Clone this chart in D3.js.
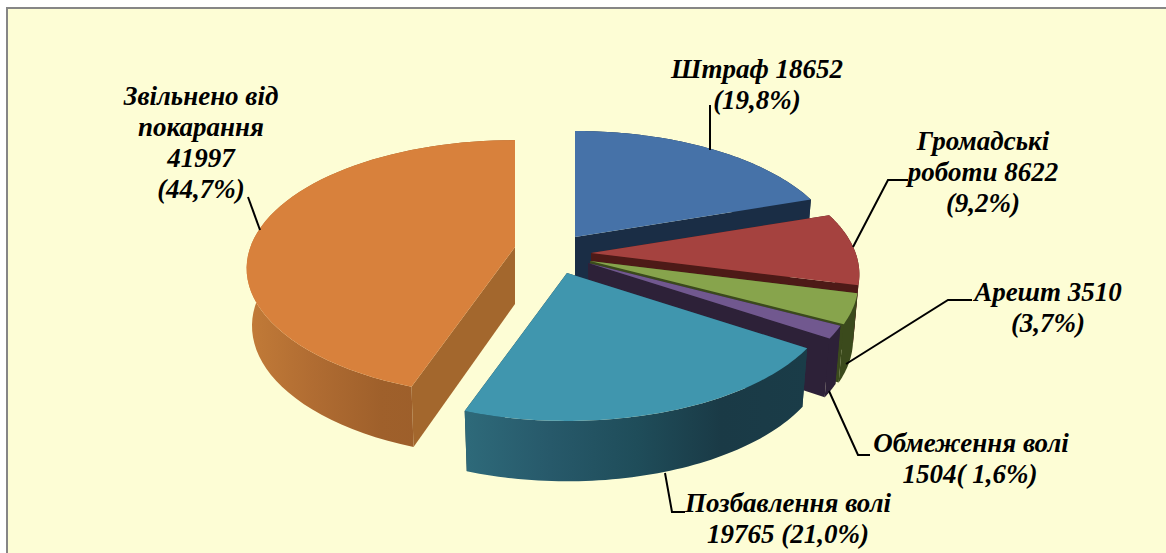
<!DOCTYPE html>
<html>
<head>
<meta charset="utf-8">
<script src="https://cdn.jsdelivr.net/npm/d3@7"></script>
<style>
  html, body { margin: 0; padding: 0; background: #fff; overflow: hidden; }
  text { font-family: "Liberation Serif", serif; font-weight: bold; font-style: italic; font-size: 27px; fill: #000; }
</style>
</head>
<body>
<script>
// chart values
var categories = ["Штраф", "Громадські роботи", "Арешт", "Обмеження волі", "Позбавлення волі", "Звільнено від покарання"];
var values = [18652, 8622, 3510, 1504, 19765, 41997];
var percents = ["19,8%", "9,2%", "3,7%", "1,6%", "21,0%", "44,7%"];

// colours, one per slice
var topColors = ["#4672a8", "#a5423f", "#87a44c", "#71588f", "#4096ae", "#d8813c"];
var faceColors = ["#1a2d45", "#4d1a17", "#3b4a1c", "#2d2138", "#1b3c48", "#a3672d"];
var wallStops = [
    ["#1a2d45", "#1a2d45"],
    ["#4d1a17", "#4d1a17"],
    ["#3b4a1c", "#3b4a1c"],
    ["#2d2138", "#2d2138"],
    ["#2e6a7a", "#27596a", "#1f4d5a", "#1a3a46", "#1a3c48"],
    ["#c27b38", "#b06c32", "#9f602b", "#9c5e2a", "#9c5e2a"]
];

var width = 1166;
var height = 553;
var center = {x: 590, y: 258};
var depth = 57;
var bottomShrink = 0.98;

// how far each slice was pulled out of the pie, in px, and its relative radius
var pullX = [-15, 1, 0, -2, -23, -75];
var pullY = [-21, -5, 3, 5, 15, -11];
var radii = [1, 1.01, 1.01, 1.005, 1, 1.01];

var svg = d3.select("body")
    .append("svg")
        .attr("width", width)
        .attr("height", height);

svg.append("rect")
    .attr("width", width)
    .attr("height", height)
    .attr("fill", "#fff");

svg.append("rect")
    .attr("x", 7)
    .attr("y", 8)
    .attr("width", width + 20)
    .attr("height", height + 20)
    .attr("fill", "#fdfdd5")
    .attr("stroke", "#868686")
    .attr("stroke-width", 2);

var defs = svg.append("defs");

// ground plane coords (-1..1) to screen px, the front of the pie is nearer
var xScale = d3.scaleLinear().domain([-1, 1]).range([-262, 262]);
var yScale = d3.scaleLinear().domain([-1, 1]).range([-123.5, 123.5]);
var tilt = 0.165;

function project(angle, r) {
    var gx = r * Math.sin(angle);
    var gy = -r * Math.cos(angle);
    var s = 1 - tilt * gy;
    return [xScale(gx) / s, yScale(gy) / s];
}

var pie = d3.pie().sort(null).value((d) => { return d; });
var slices = pie(values);
var line = d3.line();

slices.forEach((d, i) => {
    var ox = center.x + pullX[i];
    var oy = center.y + pullY[i];

    var rim = d3.range(0, 61).map((k) => {
        var p = project(d.startAngle + (d.endAngle - d.startAngle) * k / 60, radii[i]);
        return [ox + p[0], oy + p[1]];
    });
    var first = rim[0];
    var last = rim[rim.length - 1];
    var apex = [ox, oy];

    var g = svg.append("g").attr("class", "slice");
    // walls get a bit taller toward the viewer
    var drop = (p) => {
        return [ox + (p[0] - ox) * bottomShrink, p[1] + depth * (1 + 0.06 * (p[1] - oy) / 148)];
    };

    // radial cut faces
    [first, last].forEach((end) => {
        g.append("path")
            .attr("d", line([apex, end, drop(end), drop(apex)]) + "Z")
            .attr("fill", faceColors[i]);
    });

    // outer wall with a left to right shade
    var xExtent = d3.extent(rim, (p) => { return p[0]; });
    var grad = defs.append("linearGradient")
        .attr("id", "wall" + i)
        .attr("gradientUnits", "userSpaceOnUse")
        .attr("x1", xExtent[0])
        .attr("x2", xExtent[1])
        .attr("y1", 0)
        .attr("y2", 0);
    wallStops[i].forEach((c, k) => {
        grad.append("stop")
            .attr("offset", k / (wallStops[i].length - 1))
            .attr("stop-color", c);
    });
    g.append("path")
        .attr("d", line(rim.concat(rim.map(drop).reverse())) + "Z")
        .attr("fill", "url(#wall" + i + ")");

    // top face
    g.append("path")
        .attr("d", line([apex].concat(rim)) + "Z")
        .attr("fill", topColors[i]);
});

// leader lines
var leaders = [
    [[710, 105], [710, 150]],
    [[908, 180], [888, 180], [853, 247]],
    [[972, 300], [948, 300], [846, 364]],
    [[870, 455], [858, 455], [829, 391]],
    [[685, 512], [672, 512], [665, 473]],
    [[248, 197], [260, 230]]
];
leaders.forEach((pts) => {
    svg.append("path")
        .attr("d", line(pts))
        .attr("fill", "none")
        .attr("stroke", "#000")
        .attr("stroke-width", 2);
});

// labels, built from the arrays above
var labels = [
    {x: 757, y: 78, lines: [categories[0] + " " + values[0], "(" + percents[0] + ")"]},
    {x: 983, y: 150, lines: ["Громадські", "роботи " + values[1], "(" + percents[1] + ")"]},
    {x: 1048, y: 301, lines: [categories[2] + " " + values[2], "(" + percents[2] + ")"]},
    {x: 971, y: 452, lines: [categories[3]]},
    {x: 970, y: 483, lines: [values[3] + "( " + percents[3] + ")"]},
    {x: 788, y: 512, lines: [categories[4], values[4] + " (" + percents[4] + ")"]},
    {x: 201, y: 105, lines: ["Звільнено від", "покарання", String(values[5]), "(" + percents[5] + ")"]}
];
labels.forEach((lab) => {
    var t = svg.append("text")
        .attr("text-anchor", "middle")
        .attr("x", lab.x)
        .attr("y", lab.y);
    lab.lines.forEach((s, k) => {
        t.append("tspan")
            .attr("x", lab.x)
            .attr("dy", k == 0 ? 0 : 31)
            .text(s);
    });
});
</script>
</body>
</html>
